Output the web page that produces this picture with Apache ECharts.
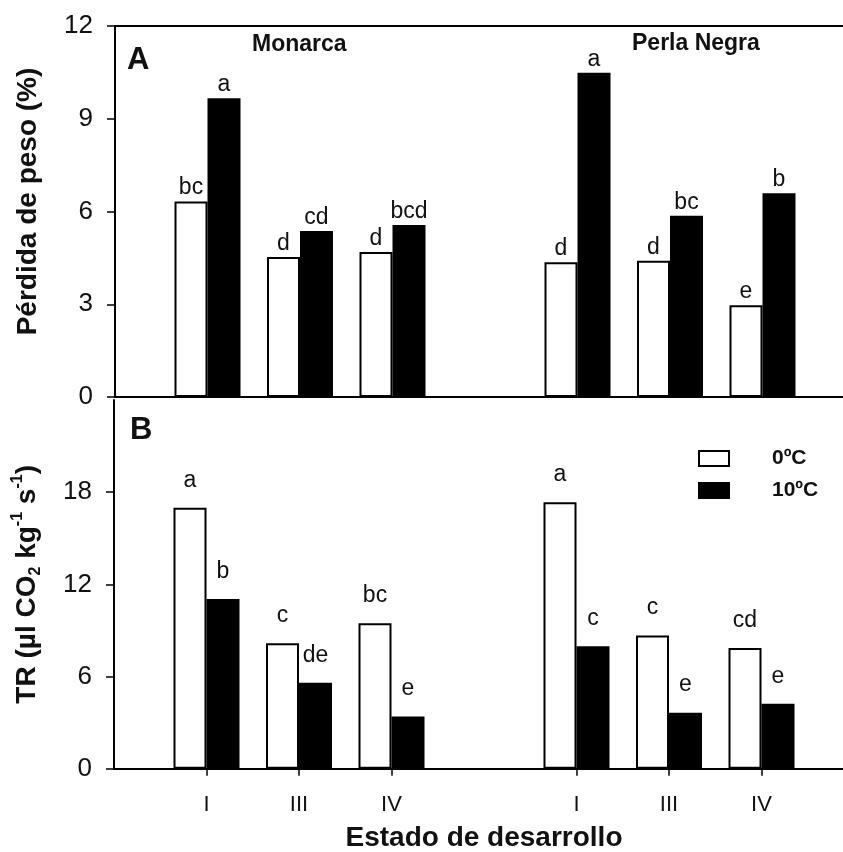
<!DOCTYPE html>
<html>
<head>
<meta charset="utf-8">
<script src="https://cdn.jsdelivr.net/npm/echarts@6/dist/echarts.min.js"></script>
<style>html,body{margin:0;padding:0;background:#fff}#c{width:843px;height:852px}</style>
</head>
<body>
<div id="c"></div>
<script>
const stages = ['I', 'III', 'IV'];
const cultivars = ['Monarca', 'Perla Negra'];
const seriesNames = ['0ºC', '10ºC'];
// Panel A: weight loss (%), order: Monarca I, III, IV, Perla Negra I, III, IV
const loss0 = [6.32, 4.53, 4.69, 4.36, 4.41, 2.97];
const loss10 = [9.66, 5.37, 5.56, 10.49, 5.86, 6.59];
const lossLetters0 = ['bc', 'd', 'd', 'd', 'd', 'e'];
const lossLetters10 = ['a', 'cd', 'bcd', 'a', 'bc', 'b'];
// Panel B: respiration rate
const tr0 = [16.98, 8.17, 9.47, 17.35, 8.67, 7.86];
const tr10 = [11.05, 5.60, 3.39, 7.97, 3.65, 4.23];
const trLetters0 = ['a', 'c', 'bc', 'a', 'c', 'cd'];
const trLetters10 = ['b', 'de', 'e', 'c', 'e', 'e'];
const lossTicks = [0, 3, 6, 9, 12];
const trTicks = [0, 6, 12, 18];

// category slots: empty slot at the edges and between cultivars
const slots = [];
const slotIndex = [];
let counter = 0;
slots.push('_gap0');
cultivars.forEach((cv, ci) => {
  stages.forEach(st => { slotIndex[slots.length] = counter++; slots.push(cv + '|' + st); });
  slots.push('_gap' + (ci + 1));
});
function spread(arr) { return slots.map((s, i) => slotIndex[i] === undefined ? null : arr[slotIndex[i]]); }
function letterFmt(arr) { return p => (slotIndex[p.dataIndex] === undefined ? '' : arr[slotIndex[p.dataIndex]]); }

const FONT = 'Liberation Sans';
const black = '#000';
const ink = '#111';

function xAxisBase(gridIndex, showLabels, position) {
  return {
    type: 'category', gridIndex, data: slots, boundaryGap: false, position: position || 'bottom',
    axisLine: { show: true, onZero: false, lineStyle: { color: black, width: 2 } },
    axisTick: { show: showLabels, length: 7, lineStyle: { color: black, width: 1.5 },
      interval: (i, v) => v.indexOf('|') >= 0 },
    axisLabel: { show: showLabels, interval: 0, margin: 25, color: ink, fontFamily: FONT, fontSize: 22,
      formatter: v => v.indexOf('|') >= 0 ? v.split('|')[1] : '' },
    splitLine: { show: false }
  };
}

function barSeries(name, xi, yi, values, letters, fill, dist) {
  return {
    type: 'bar', name, xAxisIndex: xi, yAxisIndex: yi, data: spread(values),
    barWidth: 33, barGap: '0%',
    itemStyle: { color: fill, borderColor: black, borderWidth: 2 },
    label: { show: true, position: 'top', distance: dist, formatter: letterFmt(letters),
      color: ink, fontFamily: FONT, fontSize: 23 },
    emphasis: { disabled: true }
  };
}

const chart = echarts.init(document.getElementById('c'), null, { renderer: 'canvas' });
chart.setOption({
  animation: false,
  backgroundColor: '#fff',
  textStyle: { fontFamily: FONT },
  grid: [
    { left: 115, top: 26, width: 740, height: 371, outerBoundsMode: 'none', containLabel: false },
    { left: 114, top: 400, width: 740, height: 368.7, outerBoundsMode: 'none', containLabel: false }
  ],
  legend: {
    data: seriesNames, orient: 'vertical', left: 698, top: 448, padding: 0,
    itemWidth: 30, itemHeight: 15, itemGap: 11, icon: 'rect',
    textStyle: { fontFamily: FONT, fontSize: 21, fontWeight: 'bold', color: ink, padding: [0, 0, 0, 38] },
    selectedMode: false
  },
  xAxis: [
    xAxisBase(0, false, 'bottom'),
    Object.assign(xAxisBase(1, true, 'bottom'), {
      name: 'Estado de desarrollo', nameLocation: 'middle', nameGap: 56,
      nameTextStyle: { fontFamily: FONT, fontSize: 28, fontWeight: 'bold', color: ink }
    }),
    xAxisBase(0, false, 'top')
  ],
  yAxis: [
    {
      type: 'value', gridIndex: 0, min: 0, max: 12, interval: 3,
      name: 'Pérdida de peso (%)', nameLocation: 'middle', nameGap: 73,
      nameTextStyle: { fontFamily: FONT, fontSize: 28, fontWeight: 'bold', color: ink, padding: [0, 0, 0, 20] },
      axisLine: { show: true, lineStyle: { color: black, width: 2 } },
      axisTick: { show: true, length: 8, lineStyle: { color: black, width: 1.5 }, customValues: lossTicks },
      axisLabel: { margin: 22, color: ink, fontFamily: FONT, fontSize: 26, customValues: lossTicks },
      splitLine: { show: false }
    },
    {
      type: 'value', gridIndex: 1, min: 0, max: 24, interval: 6,
      name: 'TR (µl CO{sub|2} kg{sup|-1} s{sup|-1})', nameLocation: 'middle', nameGap: 70,
      nameTextStyle: { fontFamily: FONT, fontSize: 28, fontWeight: 'bold', color: ink, lineHeight: 34,
        rich: {
          sub: { fontFamily: FONT, fontSize: 16, fontWeight: 'bold', color: ink, verticalAlign: 'bottom', lineHeight: 16 },
          sup: { fontFamily: FONT, fontSize: 16, fontWeight: 'bold', color: ink, verticalAlign: 'top', lineHeight: 16 }
        } },
      axisLine: { show: true, lineStyle: { color: black, width: 2 } },
      axisTick: { show: true, length: 8, lineStyle: { color: black, width: 1.5 }, customValues: trTicks },
      axisLabel: { margin: 22, color: ink, fontFamily: FONT, fontSize: 26, customValues: trTicks },
      splitLine: { show: false }
    }
  ],
  graphic: [
    { type: 'text', left: 127, top: 45, style: { text: 'A', font: 'bold 31px "Liberation Sans"', fill: ink } },
    { type: 'text', left: 130, top: 415, style: { text: 'B', font: 'bold 31px "Liberation Sans"', fill: ink } },
    { type: 'text', left: 252, top: 33, style: { text: 'Monarca', font: 'bold 23px "Liberation Sans"', fill: ink } },
    { type: 'text', left: 632, top: 32, style: { text: 'Perla Negra', font: 'bold 23px "Liberation Sans"', fill: ink } }
  ],
  series: [
    barSeries(seriesNames[0], 0, 0, loss0, lossLetters0, '#fff', 2),
    barSeries(seriesNames[1], 0, 0, loss10, lossLetters10, '#000', 2),
    barSeries(seriesNames[0], 1, 1, tr0, trLetters0, '#fff', 16),
    barSeries(seriesNames[1], 1, 1, tr10, trLetters10, '#000', 16)
  ]
});
</script>
</body>
</html>
